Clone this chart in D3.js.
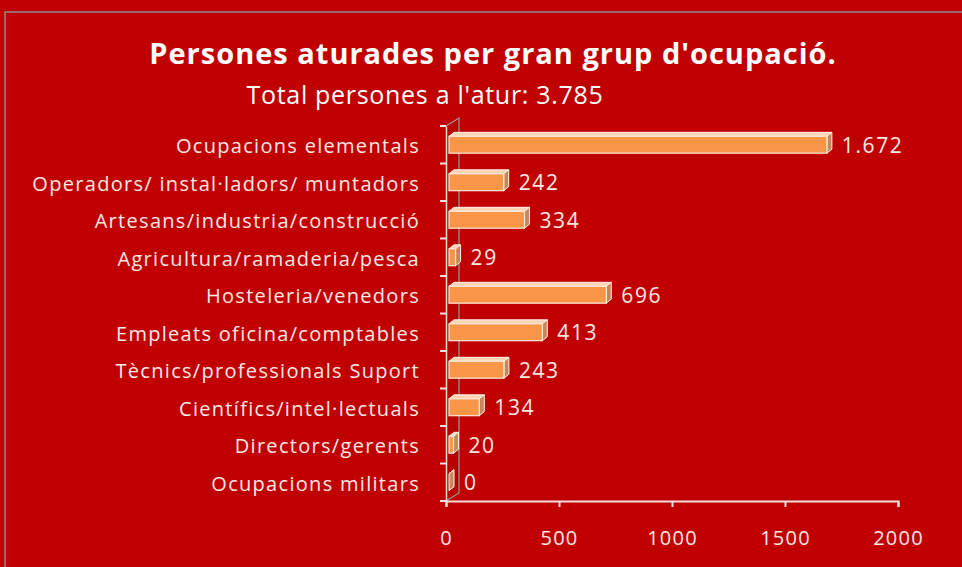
<!DOCTYPE html>
<meta charset="utf-8">
<script src="https://d3js.org/d3.v7.min.js"></script>
<style>
  body { margin: 0; background: #c00000; }
</style>
<div id="chart"></div>
<script>

// data
var categories = ["Ocupacions elementals", "Operadors/ instal·ladors/ muntadors", "Artesans/industria/construcció",
    "Agricultura/ramaderia/pesca", "Hosteleria/venedors", "Empleats oficina/comptables",
    "Tècnics/professionals Suport", "Científics/intel·lectuals", "Directors/gerents", "Ocupacions militars"];
var values = [1672, 242, 334, 29, 696, 413, 243, 134, 20, 0];
var valueLabels = ["1.672", "242", "334", "29", "696", "413", "243", "134", "20", "0"];
var xTicks = [0, 500, 1000, 1500, 2000];
var title = "Persones aturades per gran grup d'ocupació.";
var subtitle = "Total persones a l'atur: 3.785";

var W = 962, H = 567;
var textColor = "#fde8e8";

var svg = d3.select("#chart").append("svg")
    .attr("width", W).attr("height", H)
    .style("font-family", "'Open Sans', sans-serif");

svg.append("rect").attr("width", W).attr("height", H).attr("fill", "#c00000");

// outer frame
svg.append("path")
    .attr("d", "M5," + H + "V12H" + W)
    .attr("fill", "none").attr("stroke", "#8c8c8c").attr("stroke-width", 1.5);

// titles
svg.append("text").attr("x", 493).attr("y", 64)
    .attr("text-anchor", "middle").attr("fill", "#fff")
    .style("font-size", "29px").style("font-weight", "bold").style("letter-spacing", "1px")
    .text(title);
svg.append("text").attr("x", 425).attr("y", 104)
    .attr("text-anchor", "middle").attr("fill", "#fff")
    .style("font-size", "25px").style("letter-spacing", "0.7px")
    .text(subtitle);

// scales
var x = d3.scaleLinear().domain([0, 2000]).range([446, 898]);
var y = d3.scaleBand().domain(categories).range([126, 501]).paddingInner(0.55).paddingOuter(0.275);

var depthX = 13, depthY = -8;   // side wall depth
var bx = 3, bdx = 5, bdy = -4;  // bar offset and bar depth

// side wall
var wall = svg.append("g");
wall.append("path")
    .attr("d", "M" + x(0) + "," + y.range()[0] + "L" + (x(0) + depthX) + "," + (y.range()[0] + depthY) +
        "V" + (y.range()[1] + depthY) + "L" + x(0) + "," + y.range()[1])
    .attr("fill", "#b80000").attr("stroke", "#9a9a9a").attr("stroke-width", 1.2);

// bars
var bars = svg.append("g").selectAll("g").data(values).enter().append("g");

bars.append("path") // top face
    .attr("d", function (d, i) {
        var x0 = x(0) + bx, x1 = x(d) + bx, yt = y(categories[i]);
        return "M" + x0 + "," + yt + "L" + (x0 + bdx) + "," + (yt + bdy) + "H" + (x1 + bdx) + "L" + x1 + "," + yt + "Z";
    })
    .attr("fill", "#fbd4b4").attr("stroke", "#fff2ea").attr("stroke-width", 1);

bars.append("path") // side face
    .attr("d", function (d, i) {
        var x1 = x(d) + bx, yt = y(categories[i]), yb = yt + y.bandwidth();
        return "M" + x1 + "," + yt + "L" + (x1 + bdx) + "," + (yt + bdy) + "V" + (yb + bdy) + "L" + x1 + "," + yb + "Z";
    })
    .attr("fill", "#c8865a").attr("stroke", "#fff2ea").attr("stroke-width", 1);

bars.append("rect") // front face
    .attr("x", x(0) + bx)
    .attr("y", function (d, i) { return y(categories[i]); })
    .attr("width", function (d) { return x(d) - x(0); })
    .attr("height", y.bandwidth())
    .attr("fill", "#f79646").attr("stroke", "#fde9dc").attr("stroke-width", 1.2);

// value labels
bars.append("text")
    .attr("x", function (d) { return x(d) + bx + bdx + 10; })
    .attr("y", function (d, i) { return y(categories[i]) + y.bandwidth() / 2; })
    .attr("dy", "0.38em")
    .attr("fill", textColor)
    .style("font-size", "21px").style("letter-spacing", "1.6px")
    .text(function (d, i) { return valueLabels[i]; });

// y axis
var yAxis = svg.append("g").attr("transform", "translate(" + x(0) + ",0)")
    .call(d3.axisLeft(y).tickSize(0).tickPadding(26));
yAxis.select(".domain").attr("stroke", "#f4dede").attr("stroke-width", 1.5);
yAxis.selectAll("text").attr("fill", textColor).attr("dy", "0.42em")
    .style("font-size", "20px").style("letter-spacing", "1.3px")
    .style("font-family", "'Open Sans', sans-serif");

// boundary ticks between categories
var bounds = d3.range(categories.length + 1).map(function (i) { return y.range()[0] + i * y.step(); });
svg.append("g").selectAll("line").data(bounds).enter().append("line")
    .attr("x1", x(0) - 6).attr("x2", x(0))
    .attr("y1", function (d) { return d; }).attr("y2", function (d) { return d; })
    .attr("stroke", "#f4dede").attr("stroke-width", 2);

// x axis
var xAxis = svg.append("g").attr("transform", "translate(0," + y.range()[1] + ")")
    .call(d3.axisBottom(x).tickValues(xTicks).tickSize(6).tickPadding(24).tickFormat(d3.format("d")));
xAxis.select(".domain").attr("stroke", "#f4dede").attr("stroke-width", 2);
xAxis.selectAll(".tick line").attr("stroke", "#f4dede").attr("stroke-width", 2);
xAxis.selectAll("text").attr("fill", textColor)
    .style("font-size", "20px").style("letter-spacing", "1.2px")
    .style("font-family", "'Open Sans', sans-serif");

</script>
